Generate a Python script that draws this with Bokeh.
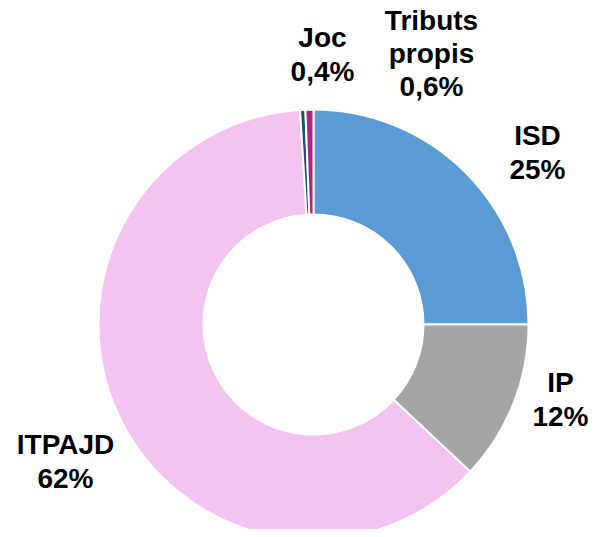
import numpy as np
from bokeh.plotting import figure
from bokeh.models import ColumnDataSource, Range1d
from bokeh.core.properties import value
from bokeh.embed import file_html
from bokeh.resources import INLINE

# Data (clockwise from 12 o'clock)
categories = ["ISD", "IP", "ITPAJD", "Joc", "Tributs\npropis"]
shares = [25.0, 12.0, 62.0, 0.4, 0.6]
share_labels = ["25%", "12%", "62%", "0,4%", "0,6%"]
colors = ["#5B9BD5", "#A5A5A5", "#F4C3EF", "#1F4E79", "#B0237F"]

W, H = 589, 529
p = figure(width=W, height=H, output_backend="svg", toolbar_location=None,
           x_range=Range1d(0, W), y_range=Range1d(0, H), min_border=0)
p.axis.visible = False
p.grid.visible = False
p.outline_line_color = None
p.background_fill_color = "white"
p.border_fill_color = "white"

# Layout (pixel-space helpers)
def px(X):
    return X
def py(Y):
    return H - Y

cx, cy = px(313), py(324)
r_out, r_in = 215, 110

frac = np.array(shares) / sum(shares)
cum = np.cumsum(frac)
prev = np.concatenate([[0], cum[:-1]])
start = np.pi / 2 - prev * 2 * np.pi
end = np.pi / 2 - cum * 2 * np.pi

src = ColumnDataSource(dict(start=start, end=end, color=colors,
                            cat=categories))
p.annular_wedge(x=cx, y=cy, inner_radius=r_in, outer_radius=r_out,
                start_angle="start", end_angle="end", direction="clock",
                fill_color="color", line_color="white", line_width=2,
                source=src)

# Label positions (pixel coords of block centres)
label_pos = [(537, 152), (560, 399), (65, 461), (322, 54), (431, 53)]
texts = [f"{c}\n{s}" for c, s in zip(categories, share_labels)]
lsrc = ColumnDataSource(dict(x=[px(a) for a, b in label_pos],
                             y=[py(b) for a, b in label_pos], t=texts))
p.text(x="x", y="y", text="t", source=lsrc, text_align="center",
       text_baseline="middle", text_font=value("Liberation Sans"),
       text_font_style="bold", text_font_size="28px", text_color="black",
       text_line_height=1.08)

open("out.html", "w").write(file_html(p, INLINE))
